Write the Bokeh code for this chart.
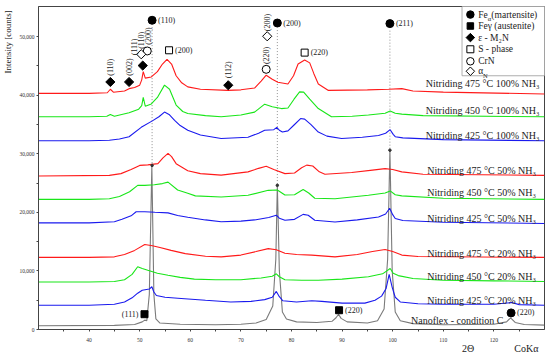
import math
from bokeh.plotting import figure
from bokeh.models import ColumnDataSource, NumeralTickFormatter, Range1d, FixedTicker
from bokeh.core.properties import value
from bokeh.embed import file_html
from bokeh.resources import INLINE

# ---------------- data (2Theta, counts) ----------------
x_nano = [30, 45, 49, 50.5, 51.0, 51.4, 51.9, 52.4, 52.8, 53.2, 54, 58, 65, 70, 73, 75, 76.3, 76.9, 77.2, 77.6, 78.2, 79, 81, 85, 88, 88.8, 89.3, 89.8, 91, 95, 97, 98.3, 99.0, 99.45, 99.9, 100.5, 101.5, 104, 110, 120, 122.5, 123.3, 124.2, 126, 130]
y_nano = [650, 700, 850, 1300, 1600, 1500, 6000, 28000, 6000, 1800, 1100, 900, 800, 900, 1100, 1700, 4000, 12000, 24600, 10000, 3000, 1800, 1300, 1200, 1400, 2000, 2600, 1900, 1300, 1100, 1500, 3500, 12000, 30600, 10000, 3000, 1500, 1000, 800, 900, 1300, 2000, 1200, 850, 750]

x_425_20 = [30, 40, 45, 47, 48.5, 49.6, 50.5, 51.9, 52.4, 52.8, 53.3, 55, 58.2, 63, 68, 72, 74.7, 76.2, 77.0, 77.6, 78.3, 81, 84, 86, 90, 94.5, 96.5, 97.8, 98.7, 99.3, 99.9, 100.5, 101.5, 105, 110, 120, 123.5, 125, 130]
y_425_20 = [4150, 4150, 4300, 4700, 5400, 6200, 6700, 6900, 7300, 6400, 5800, 5500, 5300, 5000, 4700, 4800, 5100, 5500, 6500, 5600, 4900, 4700, 4900, 4800, 4500, 4500, 5000, 5700, 7000, 9400, 7200, 5500, 4700, 4400, 4300, 4300, 4600, 4250, 4150]

x_450_20 = [30, 40, 45, 47, 48.5, 49.6, 50.5, 51.6, 53.5, 55.6, 58, 60.8, 65, 70, 74, 76.2, 77.0, 77.6, 78.7, 82, 85.3, 90, 95.2, 98, 99.5, 100.1, 101.1, 104, 110, 120, 130]
y_450_20 = [8100, 8100, 8200, 8500, 9400, 10700, 10400, 10100, 9600, 9250, 8900, 8600, 8500, 8500, 8800, 9100, 9500, 9000, 8500, 8400, 8400, 8600, 9000, 9500, 10400, 9600, 9200, 8700, 8400, 8300, 8200]

x_475_20 = [30, 40, 45, 47, 49, 51, 52.5, 54, 56.2, 59, 63, 66.1, 70, 73, 75.4, 77, 78.7, 81, 84, 88.6, 93, 96, 98.5, 100, 101.8, 105, 130]
y_475_20 = [12300, 12300, 12400, 12800, 13500, 14500, 14300, 14000, 13500, 12950, 12500, 12400, 12700, 13300, 13800, 13600, 13000, 12800, 12700, 12400, 12800, 13300, 13650, 13300, 12700, 12450, 12300]

x_425_50 = [30, 40, 45, 46.5, 48.3, 49.3, 51, 53, 55.6, 57.5, 59.5, 63, 66.1, 70, 72.7, 75.5, 77.0, 77.6, 78.7, 80.6, 82.3, 83.3, 84.6, 88.6, 93, 97.2, 98.6, 99.4, 100, 100.5, 102, 110, 130]
y_425_50 = [18200, 18200, 18400, 18800, 19400, 20100, 20100, 20000, 19900, 19450, 19150, 18700, 18400, 18500, 18700, 19100, 19500, 19000, 18650, 18800, 19650, 19500, 18650, 18350, 18700, 19200, 19700, 20700, 19600, 18950, 18600, 18300, 18100]

x_450_50 = [30, 40, 44, 46, 48, 49.6, 51, 52.9, 54.5, 55.6, 57.5, 59.5, 61, 66.1, 71.4, 75.4, 77.2, 78.7, 80.6, 82.3, 83.4, 84.6, 88.6, 95.2, 98.5, 99.5, 100.5, 101.8, 110, 130]
y_450_50 = [22200, 22200, 22300, 22700, 23500, 24600, 24600, 24700, 24900, 25150, 23800, 23250, 22800, 22600, 22900, 23750, 23800, 22950, 23000, 23900, 23300, 22400, 22300, 22900, 23300, 23650, 23000, 22800, 22400, 22200]

x_475_50 = [30, 44, 46.3, 48.3, 50, 51.6, 53.6, 54.6, 55.6, 56.3, 57.2, 59.5, 62, 66.1, 71.4, 73.5, 75.0, 76.5, 78.7, 80.6, 82, 83.0, 84.2, 85.5, 86.6, 91.9, 96, 98.5, 100, 101.8, 106, 130]
y_475_50 = [26200, 26300, 26600, 27300, 28000, 28100, 28300, 29300, 30050, 29500, 28300, 27100, 26600, 26350, 26900, 27500, 27850, 27300, 26600, 26700, 27600, 28050, 27900, 26900, 26500, 26800, 27200, 27450, 27300, 26900, 26500, 26300]

x_425_100 = [30, 40, 44, 46, 47.9, 50.3, 52.5, 53.8, 54.9, 55.8, 56.9, 58, 59.5, 62, 66.1, 71.4, 73.5, 74.7, 76.5, 77.1, 77.6, 78.2, 79.3, 80.5, 81.8, 82.6, 83.8, 85.3, 87, 89.9, 94, 97.2, 98.6, 99.5, 100.1, 100.5, 102, 110, 130]
y_425_100 = [32200, 32200, 32300, 32500, 32900, 34500, 35600, 36300, 37100, 36700, 35700, 34800, 34000, 33200, 32600, 32800, 33500, 34000, 34100, 34500, 34000, 33700, 33900, 34900, 36000, 35900, 35000, 33700, 33000, 32600, 32800, 33100, 33500, 34100, 33300, 32900, 32700, 32400, 32200]

x_450_100 = [30, 40, 43.5, 44.2, 45, 47.9, 49.8, 50.4, 50.7, 51.1, 52.3, 53.5, 54.9, 55.9, 57.2, 58.5, 59.5, 63, 66.1, 70, 72.7, 74.7, 76.2, 78.0, 79.3, 80.5, 81.6, 82.4, 83.6, 85.3, 87.9, 92, 95.2, 98.5, 99.5, 100.5, 101.8, 106, 130]
y_450_100 = [36300, 36300, 36400, 36700, 36400, 37000, 37600, 38200, 39600, 38100, 38500, 39600, 41700, 41000, 38300, 37200, 36850, 36500, 36300, 36600, 37100, 38450, 38000, 37700, 37800, 39300, 40550, 40500, 39300, 37700, 36300, 36400, 36600, 36900, 37300, 36900, 36750, 36500, 36300]

x_475_100 = [30, 40, 43.6, 44.2, 44.8, 47, 47.9, 49, 50, 50.4, 50.7, 51.1, 52.3, 53.5, 54.5, 55.4, 56.3, 57.2, 58.3, 59.5, 62, 67.4, 70, 72.7, 74, 75.0, 76.2, 77.3, 79.3, 80.4, 81.3, 82.6, 83.6, 84.4, 85.3, 87.3, 95, 99.2, 101.8, 104, 110, 130]
y_475_100 = [40300, 40300, 40400, 41000, 40500, 40700, 41100, 41300, 41700, 42600, 44000, 42900, 43100, 44000, 45300, 46100, 45300, 43300, 42100, 41400, 41000, 40800, 40900, 41200, 42400, 43400, 42700, 42200, 41900, 43300, 45300, 46000, 45500, 43700, 41900, 40800, 40900, 41000, 41100, 40700, 40500, 40200]

curve_labels = ["Nanoflex - condition C",
                "Nitriding 425 °C 20% NH₃", "Nitriding 450 °C 20% NH₃", "Nitriding 475 °C 20% NH₃",
                "Nitriding 425 °C 50% NH₃", "Nitriding 450 °C 50% NH₃", "Nitriding 475 °C 50% NH₃",
                "Nitriding 425 °C 100% NH₃", "Nitriding 450 °C 100% NH₃", "Nitriding 475 °C 100% NH₃"]
label_x = [121.9, 128.3, 128.3, 128.3, 128.3, 128.3, 128.3, 129.0, 129.0, 129.0]
label_y = [1590, 5000, 8970, 12970, 18940, 23300, 27180, 33150, 37400, 42000]

# peak markers
fe_a_x = [52.45, 77.2, 99.45, 123.4]
fe_a_y = [52770, 52300, 52200, 2830]
fe_a_lab = ["(110)", "(200)", "(211)", "(220)"]
fe_g_x = [50.95, 89.4]
fe_g_y = [2610, 3290]
eps_x = [44.2, 47.9, 50.6, 67.5]
eps_y = [42240, 42240, 45040, 41680]
s_x = [55.8, 82.6]
s_y = [47650, 47250]
s_lab = ["(200)", "(220)"]
crn_x = [51.5, 75.0]
crn_y = [47530, 44400]
an_x = [50.3, 75.2]
an_y = [46970, 50040]
vlab_x = [44.2, 47.9, 48.9, 50.3, 51.7, 67.5, 75.0, 75.2]
vlab_y = [43300, 43300, 46800, 47900, 48600, 42870, 45300, 50900]
vlab_t = ["(110)", "(002)", "(111)", "(110)", "(200)", "(112)", "(220)", "(200)"]
guide_x = [52.45, 77.2, 99.45]
guide_top = [51600, 51100, 51000]
guide_bot = [28000, 24600, 30600]

RED, GREEN, BLUE, GRAY = "#ff1a1a", "#19e619", "#1a1aee", "#7a7a7a"
SERIF = "Liberation Serif"
INK = "#222222"

p = figure(width=550, height=357, x_range=Range1d(30, 130), y_range=Range1d(0, 55120),
           output_backend="svg", toolbar_location=None,
           min_border_left=38, min_border_right=6, min_border_top=6, min_border_bottom=28)
p.grid.visible = False
p.outline_line_color = "#444444"
p.background_fill_color = "white"

series = [(x_nano, y_nano, GRAY), (x_425_20, y_425_20, BLUE), (x_450_20, y_450_20, GREEN),
          (x_475_20, y_475_20, RED), (x_425_50, y_425_50, BLUE), (x_450_50, y_450_50, GREEN),
          (x_475_50, y_475_50, RED), (x_425_100, y_425_100, BLUE), (x_450_100, y_450_100, GREEN),
          (x_475_100, y_475_100, RED)]

p.segment(x0=guide_x, y0=guide_top, x1=guide_x, y1=guide_bot, line_color="#777777",
          line_dash="1 2", line_width=0.8)

for xs, ys, c in series:
    p.line(xs, ys, line_color=c, line_width=1.1)

p.scatter(guide_x, guide_bot, size=2.5, marker="circle", color="#333333")

lab_src = ColumnDataSource(dict(x=label_x, y=label_y, t=curve_labels))
p.text("x", "y", text="t", source=lab_src, text_align="right", text_baseline="alphabetic",
       text_font=value(SERIF), text_font_size="10px", text_color=INK)

# markers
p.scatter(fe_a_x, fe_a_y, marker="circle", size=8, color="black")
p.scatter(fe_g_x, fe_g_y, marker="square", size=7, color="black")
p.scatter(eps_x, eps_y, marker="square", size=6.5, angle=math.pi / 4, color="black")
p.scatter(s_x, s_y, marker="square", size=7, fill_color="white", line_color="black", line_width=1)
p.scatter(crn_x, crn_y, marker="circle", size=8, fill_color="white", line_color="black", line_width=1)
p.scatter(an_x, an_y, marker="square", size=6.5, angle=math.pi / 4, fill_color="white",
          line_color="black", line_width=1)

small = dict(text_font=value(SERIF), text_font_size="8px", text_color=INK, text_baseline="middle")
p.text(fe_a_x, fe_a_y, text=fe_a_lab, x_offset=6, **small)
p.text(s_x, s_y, text=s_lab, x_offset=6, **small)
p.text([fe_g_x[1]], [fe_g_y[1]], text=["(220)"], x_offset=6, **small)
p.text([fe_g_x[0]], [fe_g_y[0]], text=["(111)"], x_offset=-6, text_align="right", **small)
p.text(vlab_x, vlab_y, text=vlab_t, angle=math.pi / 2, text_align="left", **small)

# legend box (manual)
p.quad(left=[113.7], right=[131], bottom=[43300], top=[56000], fill_color="white",
       line_color="#999999", line_width=0.8)
leg_y = [53740, 51790, 49810, 47820, 45770, 44070]
p.scatter([115.35], [leg_y[0]], marker="circle", size=7.5, color="black")
p.scatter([115.35], [leg_y[1]], marker="square", size=6.5, color="black")
p.scatter([115.35], [leg_y[2]], marker="square", size=6, angle=math.pi / 4, color="black")
p.scatter([115.35], [leg_y[3]], marker="square", size=7, fill_color="white", line_color="black")
p.scatter([115.35], [leg_y[4]], marker="circle", size=7.5, fill_color="white", line_color="black")
p.scatter([115.35], [leg_y[5]], marker="square", size=6, angle=math.pi / 4, fill_color="white", line_color="black")
lt = dict(text_font=value(SERIF), text_font_size="9.5px", text_color=INK, text_baseline="middle")
sub = dict(text_font=value(SERIF), text_font_size="6.5px", text_color=INK, text_baseline="middle")
p.text([116.9], [leg_y[0]], text=["Fe"], **lt)
p.text([118.8], [leg_y[0] - 650], text=["α"], **sub)
p.text([119.5], [leg_y[0]], text=["(martensite)"], **lt)
p.text([116.9, 116.9, 116.9, 116.9], [leg_y[1], leg_y[2], leg_y[3], leg_y[4]],
       text=["Feγ (austenite)", "ε - M₂N", "S - phase", "CrN"], **lt)
p.text([116.9], [leg_y[5]], text=["α"], **lt)
p.text([117.85], [leg_y[5] - 650], text=["N"], **sub)

# axes
p.xaxis.ticker = FixedTicker(ticks=[40, 50, 60, 70, 80, 90, 100, 110, 120],
                             minor_ticks=[35, 45, 55, 65, 75, 85, 95, 105, 115, 125])
p.yaxis.ticker = FixedTicker(ticks=[0, 10000, 20000, 30000, 40000, 50000],
                             minor_ticks=[5000, 15000, 25000, 35000, 45000])
p.yaxis.formatter = NumeralTickFormatter(format="0,0")
for ax in (p.xaxis[0], p.yaxis[0]):
    ax.axis_line_color = "#444444"
    ax.major_tick_line_color = "#444444"
    ax.minor_tick_line_color = "#444444"
    ax.major_tick_out = 2
    ax.major_tick_in = 0
    ax.minor_tick_out = 2
    ax.minor_tick_in = 0
    ax.major_label_text_font = SERIF
    ax.major_label_text_font_size = "5.5px"
    ax.major_label_text_color = "#333333"
p.xaxis.major_label_standoff = 6
p.yaxis.major_label_standoff = 2

# axis captions: the visible words sit towards the axis ends, padded with no-break spaces
NB = "\u00a0"
ya = p.yaxis[0]
ya.axis_label = NB * 112 + "Intensity [counts]"
ya.axis_label_text_font = SERIF
ya.axis_label_text_font_size = "9px"
ya.axis_label_text_font_style = "normal"
ya.axis_label_text_color = INK
ya.axis_label_standoff = 3

xa = p.xaxis[0]
xa.axis_label = NB * 167 + "2Θ" + NB * 16 + "CoKα"
xa.axis_label_text_font = SERIF
xa.axis_label_text_font_size = "10px"
xa.axis_label_text_font_style = "normal"
xa.axis_label_text_color = INK
xa.axis_label_standoff = -2

open("out.html", "w").write(file_html(p, INLINE))
